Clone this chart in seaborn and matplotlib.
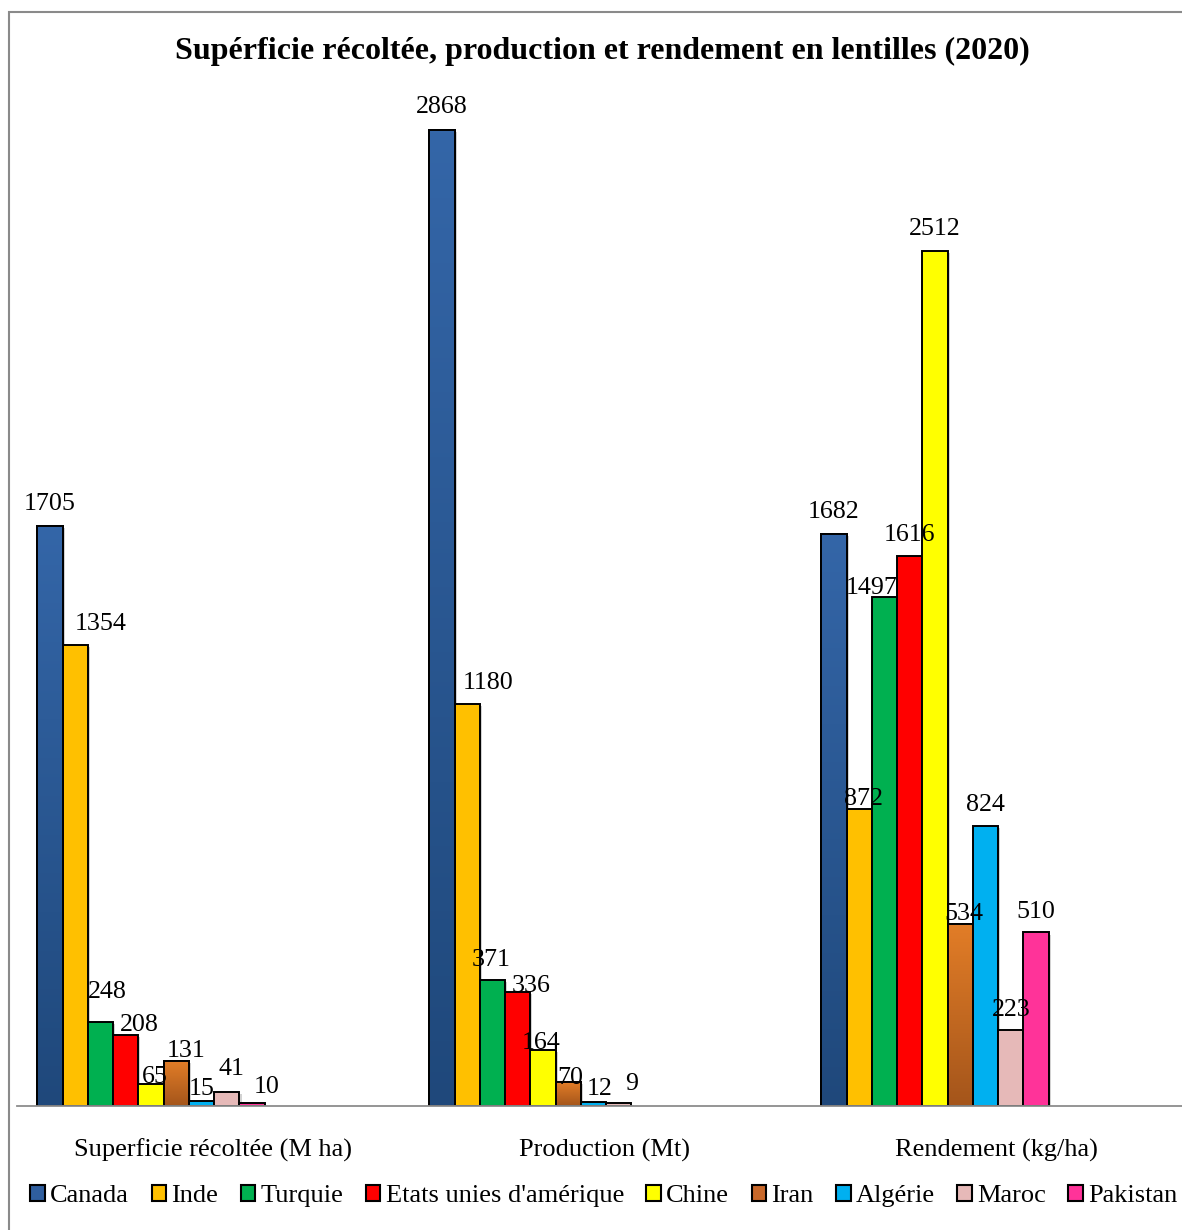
import numpy as np
import pandas as pd
import matplotlib
matplotlib.use("Agg")
import matplotlib.pyplot as plt
import matplotlib.patheffects as pe
from matplotlib.patches import Rectangle
from matplotlib.colors import LinearSegmentedColormap
import seaborn as sns

# ---- data ----
categories = ["Superficie récoltée (M ha)", "Production (Mt)", "Rendement (kg/ha)"]
countries = ["Canada", "Inde", "Turquie", "Etats unies d'amérique", "Chine",
             "Iran", "Algérie", "Maroc", "Pakistan"]
superficie = [1705, 1354, 248, 208, 65, 131, 15, 41, 10]
production = [2868, 1180, 371, 336, 164, 70, 12, 9, np.nan]
rendement = [1682, 872, 1497, 1616, 2512, 534, 824, 223, 510]

colors = ["#2F5E9E", "#FFC000", "#00B050", "#FF0000", "#FFFF00",
          "#C8682A", "#00B0F0", "#E6B9B8", "#FF3399"]
# (bottom colour, top colour) for the shaded series
gradients = {"Canada": ("#1F487B", "#3466A8"), "Iran": ("#A4551B", "#E27D27")}

# per-label nudges in pixels (dx, dy) relative to default spot above each bar
label_nudge = {
    (0, 0): (0, 1), (0, 1): (25, 0), (0, 2): (7, 9), (0, 3): (14, -11),
    (0, 4): (4, -14), (0, 5): (10, -11), (0, 6): (0, -9), (0, 7): (5, 2),
    (0, 8): (15, -5),
    (1, 0): (0, 2), (1, 1): (21, 0), (1, 2): (-1, -1), (1, 3): (13, -15),
    (1, 4): (-2, -14), (1, 5): (2, -17), (1, 6): (6, -8), (1, 7): (13, -2),
    (2, 0): (0, 1), (2, 1): (4, -11), (2, 2): (-13, -12), (2, 3): (0, 0),
    (2, 4): (0, 1), (2, 5): (4, -11), (2, 6): (0, 0), (2, 7): (0, -1),
    (2, 8): (0, -1),
}

rows = []
for cat, vals in zip(categories, [superficie, production, rendement]):
    for c, v in zip(countries, vals):
        rows.append({"categorie": cat, "pays": c, "valeur": v})
df = pd.DataFrame(rows).dropna()

sns.set_theme(style="white")
plt.rcParams["font.family"] = ["Liberation Serif", "DejaVu Serif"]
plt.rcParams["text.color"] = "black"
plt.rcParams["legend.labelcolor"] = "black"

W, H = 1182, 1230
fig = plt.figure(figsize=(W / 100, H / 100), dpi=100)
base_y, top_y, left_x = 1106, 85, 17
ax = fig.add_axes([left_x / W, 1 - base_y / H, 1 - left_x / W, (base_y - top_y) / H])

sns.barplot(data=df, x="categorie", y="valeur", hue="pays", order=categories,
            hue_order=countries, palette=colors, saturation=1, width=0.58,
            errorbar=None, edgecolor="black", linewidth=1.4, legend=True, ax=ax)

shadow = [pe.SimplePatchShadow(offset=(1.5, -1.5), shadow_rgbFace="#808080", alpha=0.35),
          pe.Normal()]

xlim = ((left_x - 151) / 392, (W - 151) / 392)
ylim = (0, 3000)

for ci, cont in enumerate(ax.containers):
    country = countries[ci]
    for bar in cont:
        h = bar.get_height()
        if not np.isfinite(h):
            continue
        bar.set_path_effects(shadow)
        x0, w = bar.get_x(), bar.get_width()
        cat = int(round(x0 + w / 2))
        if country in gradients:
            cmap = LinearSegmentedColormap.from_list("g", list(gradients[country]))
            grad = np.linspace(0, 1, 256).reshape(-1, 1)
            im = ax.imshow(grad, cmap=cmap, extent=[x0, x0 + w, 0, h], aspect="auto",
                           origin="lower", zorder=bar.get_zorder() + 0.05)
            im.set_clip_path(bar)
            ax.add_patch(Rectangle((x0, 0), w, h, facecolor="none", edgecolor="black",
                                   linewidth=1.4, zorder=bar.get_zorder() + 0.1))
        key = (cat, ci)
        if key in label_nudge:
            vals = [superficie, production, rendement][cat]
            dx, dy = label_nudge[key]
            ax.annotate(f"{vals[ci]:.0f}", (x0 + w / 2, h), xytext=(dx, 21 + dy),
                        textcoords="offset pixels", ha="center", va="center",
                        fontsize=18.7, color="black", zorder=10)

ax.set_xlim(*xlim)
ax.set_ylim(*ylim)
ax.set_xticks([i + 0.158 for i in range(len(categories))], labels=categories)
ax.tick_params(axis="x", length=0, pad=23.5, labelsize=19, colors="black")
ax.set_yticks([])
ax.set_xlabel("")
ax.set_ylabel("")
for s in ["left", "right", "top"]:
    ax.spines[s].set_visible(False)
ax.spines["bottom"].set_color("#8C8C8C")
ax.spines["bottom"].set_linewidth(1.3)
ax.set_facecolor("none")

handles, labels = ax.get_legend_handles_labels()
ax.get_legend().remove()
for hnd in handles:
    hnd.set_edgecolor("black")
    hnd.set_linewidth(1.5)
fig.legend(handles, labels, loc="center", bbox_to_anchor=(604 / W, 1 - 1196 / H),
           ncol=9, frameon=False, fontsize=19, handlelength=0.55, handleheight=0.55,
           handletextpad=0.2, columnspacing=0.85, borderaxespad=0, labelcolor="black")

fig.text(602 / W, 1 - 51 / H,
         "Supérficie récoltée, production et rendement en lentilles (2020)",
         ha="center", va="center", fontsize=23, fontweight="bold", color="black")

fig.patches.append(Rectangle((9 / W, -0.1), 1.2, (H - 12) / H + 0.1,
                             transform=fig.transFigure, fill=False,
                             edgecolor="#8A8A8A", linewidth=1.5))

fig.savefig("out.png", dpi=100, facecolor="white")
